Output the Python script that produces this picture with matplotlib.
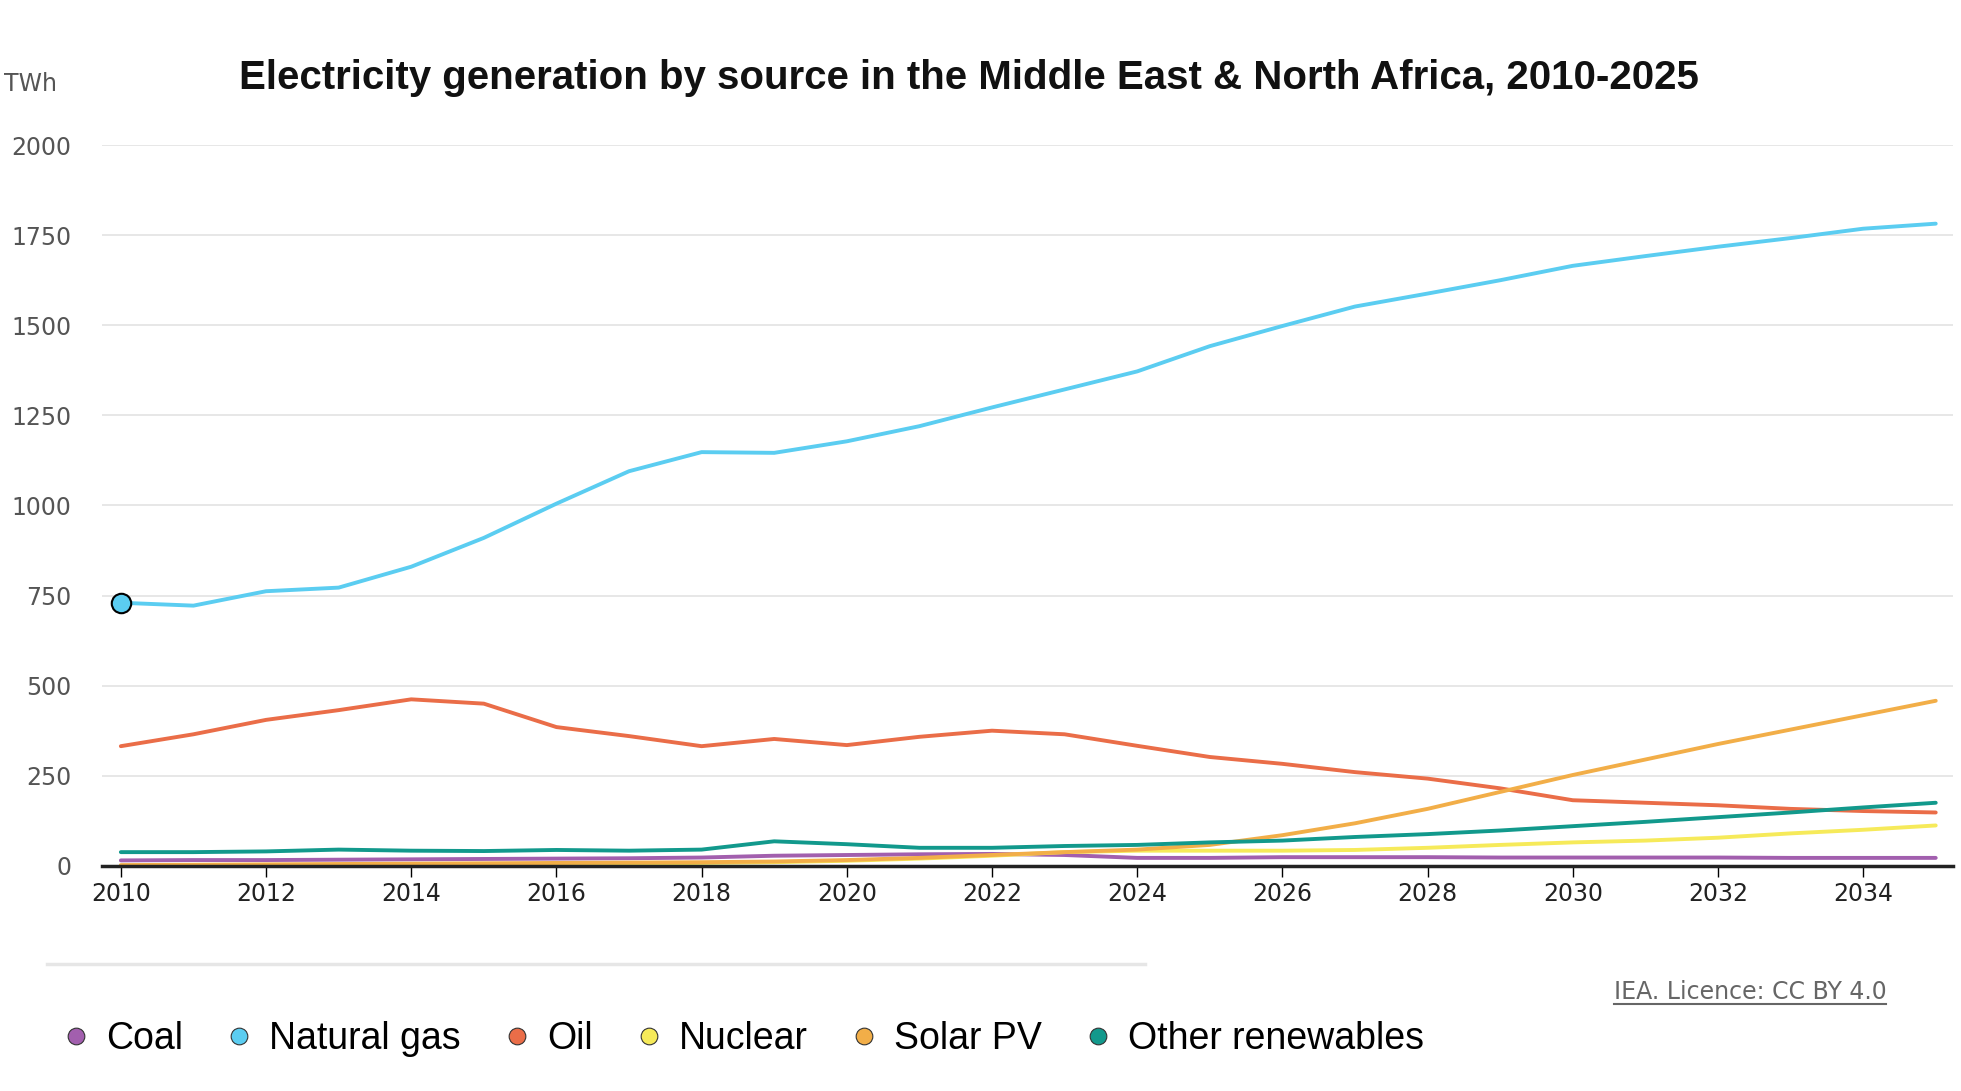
import matplotlib
matplotlib.use("Agg")
import matplotlib.pyplot as plt
from matplotlib.lines import Line2D

years = list(range(2010, 2036))
coal = [15,16,16,17,18,19,20,21,23,28,30,32,33,30,22,22,24,24,24,23,23,23,23,22,22,22]
gas = [730,722,762,772,830,910,1005,1095,1148,1146,1178,1220,1272,1322,1372,1442,1498,1552,1588,1625,1665,1692,1718,1742,1768,1782]
oil = [332,365,405,432,462,450,385,360,332,352,335,358,375,365,333,302,283,260,242,215,182,175,168,158,152,148]
nuclear = [0,0,0,0,2,3,5,6,8,10,14,20,28,38,42,42,42,44,50,58,65,70,78,90,100,112]
solar = [2,3,4,5,6,7,8,9,10,12,16,22,30,38,45,58,85,118,158,205,252,295,338,378,418,458]
other = [38,38,40,45,42,41,44,42,45,68,60,50,50,55,58,65,70,80,88,98,110,122,135,148,162,175]

names = ["Coal", "Natural gas", "Oil", "Nuclear", "Solar PV", "Other renewables"]
colors = ["#a25fae", "#5bcdf1", "#ea6d48", "#f6ea5a", "#f2ae48", "#12998c"]
series = [coal, gas, oil, nuclear, solar, other]

fig = plt.figure(figsize=(19.61, 10.91), dpi=100)
ax = fig.add_axes([0.052, 0.2064, 0.944, 0.6606])
for s, c in zip(series, colors):
    ax.plot(years, s, color=c, lw=2.8, solid_capstyle="round")
ax.plot([years[0]], [gas[0]], "o", ms=14, mfc="#5bcdf1", mec="black", mew=1.5, zorder=5)

ax.set_xlim(2009.74, 2035.24)
ax.set_ylim(0, 2000)
ax.set_yticks([0, 250, 500, 750, 1000, 1250, 1500, 1750, 2000])
ax.set_xticks(list(range(2010, 2036, 2)))
ax.grid(axis="y", color="#e3e3e3", lw=1.2)
ax.set_axisbelow(True)
for sp in ["top", "right", "left"]:
    ax.spines[sp].set_visible(False)
ax.spines["bottom"].set_linewidth(2.5)
ax.spines["bottom"].set_color("#222222")
ax.tick_params(axis="y", length=0, labelsize=17, labelcolor="#555555", pad=22)
ax.tick_params(axis="x", length=8, width=1, labelsize=17, labelcolor="#222222")

fig.text(0.002, 0.917, "TWh", fontsize=17, color="#555555")
fig.text(0.494, 0.918, "Electricity generation by source in the Middle East & North Africa, 2010-2025",
         ha="center", fontsize=29, fontweight="bold", color="#111111",
         family=["Liberation Sans Narrow", "Liberation Sans", "DejaVu Sans"])

fig.add_artist(Line2D([0.024, 0.584], [0.116, 0.116], color="#e6e6e6", lw=2.5))
handles = [Line2D([], [], marker="o", ls="", ms=12, mfc=c, mec="#333333", mew=0.8) for c in colors]
fig.legend(handles, names, loc="center left", bbox_to_anchor=(0.012, 0.048), ncol=6, frameon=False,
           prop={"family": ["Liberation Sans Narrow", "Liberation Sans", "DejaVu Sans"], "size": 27},
           handletextpad=0.3, columnspacing=1.0, handlelength=1.0)
fig.text(0.823, 0.084, "IEA. Licence: CC BY 4.0", fontsize=17, color="#666666")
fig.add_artist(Line2D([0.823, 0.962], [0.08, 0.08], color="#666666", lw=1.5))

fig.savefig("out.png", dpi=100)
